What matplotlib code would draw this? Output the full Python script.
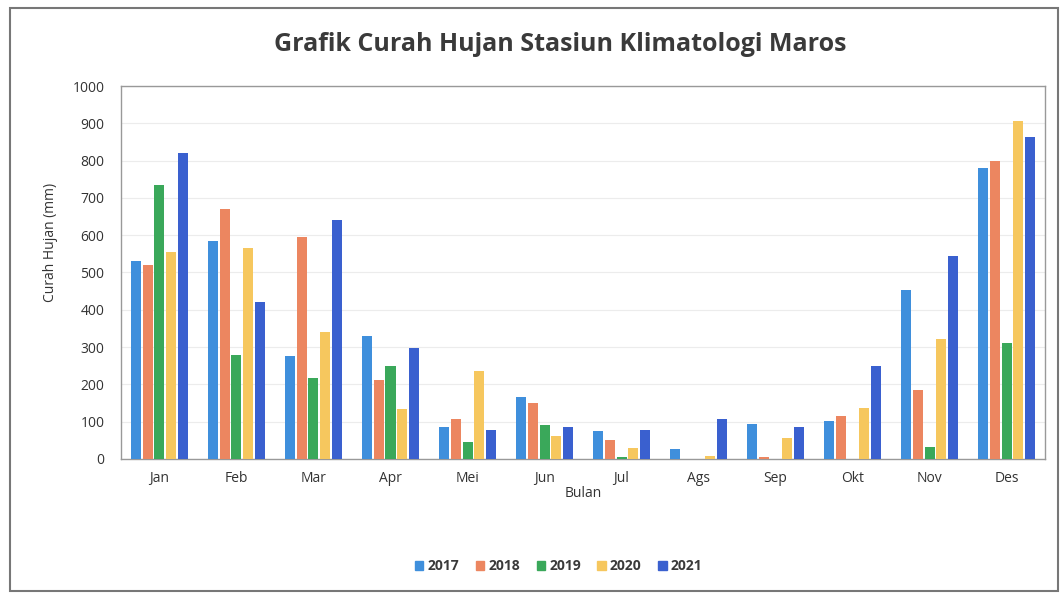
import matplotlib
matplotlib.use("Agg")
import matplotlib.pyplot as plt
import matplotlib.patches as mpatches
import numpy as np

# ── Data ─────────────────────────────────────────────────────────────
bulan = ["Jan", "Feb", "Mar", "Apr", "Mei", "Jun", "Jul", "Ags", "Sep", "Okt", "Nov", "Des"]
tahun = ["2017", "2018", "2019", "2020", "2021"]

hujan_2017 = [530, 585, 275, 330, 85, 165, 75, 28, 95, 102, 453, 780]
hujan_2018 = [520, 670, 595, 212, 108, 150, 50, 0, 5, 115, 185, 800]
hujan_2019 = [735, 280, 218, 250, 45, 92, 5, 0, 0, 0, 32, 310]
hujan_2020 = [555, 565, 340, 135, 235, 62, 30, 8, 56, 137, 323, 905]
hujan_2021 = [820, 420, 640, 298, 78, 85, 78, 106, 86, 248, 544, 863]

warna = ["#3f8fdc", "#ec8660", "#3aa85a", "#f6c75e", "#3a60cf"]

# ── Figure ───────────────────────────────────────────────────────────
plt.rcParams["font.family"] = ["Open Sans", "DejaVu Sans"]
fig = plt.figure(figsize=(10.64, 5.96), dpi=100)
ax = fig.add_axes([0.1137, 0.2299, 0.8685, 0.6258])

x = np.arange(len(bulan))
seri = [hujan_2017, hujan_2018, hujan_2019, hujan_2020, hujan_2021]
lebar = 0.13
jarak = 0.152
for i, (nilai, th) in enumerate(zip(seri, tahun)):
    ax.bar(x + (i - 2) * jarak, nilai, width=lebar, color=warna[i], label=th, zorder=3)

ax.set_xlim(-0.5, 11.5)
ax.set_ylim(0, 1000)
ax.set_yticks(range(0, 1001, 100))
ax.set_xticks(x)
ax.set_xticklabels(bulan)
ax.tick_params(axis="both", length=0, labelsize=10, colors="#333333")
ax.tick_params(axis="y", pad=12)
ax.tick_params(axis="x", pad=9)
ax.grid(axis="y", color="#ececec", linewidth=0.8, zorder=0)
for s in ax.spines.values():
    s.set_color("#999999")
    s.set_linewidth(1.0)

ax.set_ylabel("Curah Hujan (mm)", fontsize=10, color="#333333")
ax.yaxis.set_label_coords(-0.068, 0.58)
ax.set_xlabel("Bulan", fontsize=10, color="#333333", labelpad=0)

fig.text(0.527, 0.925, "Grafik Curah Hujan Stasiun Klimatologi Maros",
         ha="center", va="center", fontsize=18, fontweight="bold", color="#3a3a3a")

# ── Legend ───────────────────────────────────────────────────────────
handles = [mpatches.Patch(color=c, label=t) for c, t in zip(warna, tahun)]
fig.legend(handles=handles, loc="center", bbox_to_anchor=(0.525, 0.05), ncol=5,
           frameon=False, prop={"size": 10, "weight": "bold"}, labelcolor="#3a3a3a",
           handlelength=0.6, handleheight=0.6, handletextpad=0.3, columnspacing=1.2)

# ── Outer frame ──────────────────────────────────────────────────────
fig.patches.append(mpatches.Rectangle((0.0094, 0.0084), 0.985, 0.978, transform=fig.transFigure,
                                      fill=False, edgecolor="#777777", linewidth=1.5))

fig.savefig("out.png", dpi=100)
